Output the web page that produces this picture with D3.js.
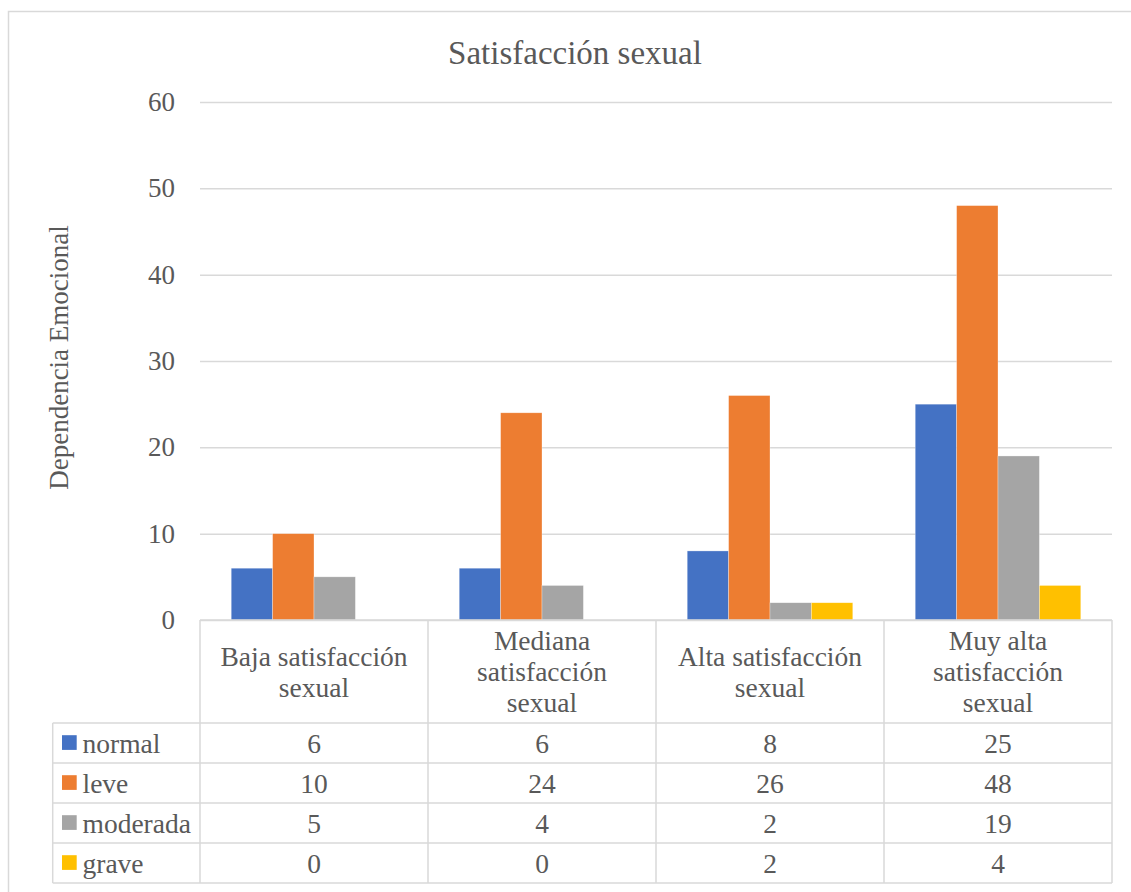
<!DOCTYPE html>
<html>
<head>
<meta charset="utf-8">
<script src="https://cdn.jsdelivr.net/npm/d3@7/dist/d3.min.js"></script>
<style>
  html, body { margin: 0; padding: 0; background: #ffffff; }
</style>
</head>
<body>
<svg id="chart" width="1131" height="892"></svg>
<script>
const title = "Satisfacción sexual";
const yTitle = "Dependencia Emocional";
const categories = ["Baja satisfacción sexual", "Mediana satisfacción sexual", "Alta satisfacción sexual", "Muy alta satisfacción sexual"];
const seriesNames = ["normal", "leve", "moderada", "grave"];
const seriesColors = ["#4472C4", "#ED7D31", "#A5A5A5", "#FFC000"];
const normal = [6, 6, 8, 25];
const leve = [10, 24, 26, 48];
const moderada = [5, 4, 2, 19];
const grave = [0, 0, 2, 4];
const yTicks = [0, 10, 20, 30, 40, 50, 60];

const seriesValues = [normal, leve, moderada, grave];
const textColor = "#595959";
const gridColor = "#d9d9d9";
const FONT = "Liberation Serif";
const FS = 27.5;

const svg = d3.select("#chart");

svg.append("rect").attr("x", 8.5).attr("y", 11.5).attr("width", 1200).attr("height", 1000)
  .attr("fill", "none").attr("stroke", gridColor).attr("stroke-width", 1.5);

const plotLeft = 200, plotRight = 1112, plotTop = 102, plotBottom = 620;
const legendLeft = 52.7;

const y = d3.scaleLinear().domain([0, 60]).range([plotBottom, plotTop]);
const x = d3.scaleBand().domain(categories).range([plotLeft, plotRight]).paddingInner(0).paddingOuter(0);
const xInner = d3.scaleBand().domain(seriesNames).range([0, x.bandwidth()]).paddingInner(0).paddingOuter(0.754);

function txt(sel) { return sel.style("font-family", FONT).attr("fill", textColor); }

// title
txt(svg.append("text")).attr("x", 575).attr("y", 64).attr("text-anchor", "middle")
  .attr("font-size", 33).text(title);

// y-axis title
txt(svg.append("text")).attr("transform", `translate(68,${357.5}) rotate(-90)`)
  .attr("text-anchor", "middle").attr("font-size", 27).text(yTitle);

// gridlines + ticks
const yAxis = d3.axisLeft(y).tickValues(yTicks).tickSize(-(plotRight - plotLeft)).tickPadding(25).tickFormat(d3.format("d"));
const gAxis = svg.append("g").attr("transform", `translate(${plotLeft},0)`).call(yAxis);
gAxis.attr("font-family", null).attr("font-size", null);
gAxis.select(".domain").remove();
gAxis.selectAll(".tick line").attr("stroke", gridColor).attr("stroke-width", 1.5);
gAxis.selectAll(".tick text").style("font-family", FONT).attr("fill", textColor).style("font-size", "27px").attr("x", -25);

// bars
const groups = svg.append("g").selectAll("g").data(categories).join("g")
  .attr("transform", d => `translate(${x(d)},0)`);
groups.selectAll("rect").data((c, ci) => seriesNames.map((s, si) => ({ s, si, v: seriesValues[si][ci] })))
  .join("rect")
  .attr("x", d => xInner(d.s))
  .attr("width", xInner.bandwidth())
  .attr("y", d => y(d.v))
  .attr("height", d => y(0) - y(d.v))
  .attr("fill", d => seriesColors[d.si])
  .attr("stroke", "#ffffff").attr("stroke-opacity", 0.5).attr("stroke-width", 0.6);

// data table
const headerBottom = 723, rowH = 40;
const tableBottom = headerBottom + rowH * seriesNames.length;
const tg = svg.append("g");
const vx = [plotLeft, ...categories.map(c => x(c) + x.bandwidth())];
vx.forEach(xx => tg.append("line").attr("x1", xx).attr("x2", xx).attr("y1", plotBottom).attr("y2", tableBottom)
  .attr("stroke", gridColor).attr("stroke-width", 1.5));
tg.append("line").attr("x1", legendLeft).attr("x2", legendLeft).attr("y1", headerBottom).attr("y2", tableBottom)
  .attr("stroke", gridColor).attr("stroke-width", 1.5);
tg.append("line").attr("x1", plotLeft).attr("x2", plotRight).attr("y1", plotBottom).attr("y2", plotBottom)
  .attr("stroke", gridColor).attr("stroke-width", 1.5);
for (let i = 0; i <= seriesNames.length; i++) {
  const yy = headerBottom + i * rowH;
  tg.append("line").attr("x1", legendLeft).attr("x2", plotRight).attr("y1", yy).attr("y2", yy)
    .attr("stroke", gridColor).attr("stroke-width", 1.5);
}

// header labels with wrapping
const lineH = 31;
categories.forEach(c => {
  const cx = x(c) + x.bandwidth() / 2;
  const words = c.split(" ");
  const t = txt(tg.append("text")).attr("font-size", FS).attr("text-anchor", "middle");
  const lines = [];
  let cur = [];
  const probe = t.append("tspan");
  words.forEach(w => {
    const test = cur.concat([w]).join(" ");
    probe.text(test);
    if (probe.node().getComputedTextLength() > 200 && cur.length) {
      lines.push(cur.join(" "));
      cur = [w];
    } else cur.push(w);
  });
  lines.push(cur.join(" "));
  probe.remove();
  const midY = (plotBottom + headerBottom) / 2;
  const firstBaseline = midY - (lines.length - 1) * lineH / 2 + 9.5;
  lines.forEach((l, i) => t.append("tspan").attr("x", cx).attr("y", firstBaseline + i * lineH).text(l));
});

// rows
seriesNames.forEach((s, si) => {
  const cy = headerBottom + si * rowH + rowH / 2;
  tg.append("rect").attr("x", 62).attr("y", cy - 7.8).attr("width", 14.7).attr("height", 14.7).attr("fill", seriesColors[si]);
  txt(tg.append("text")).attr("x", 82.5).attr("y", cy + 9.5).attr("font-size", FS).text(s);
  categories.forEach((c, ci) => {
    txt(tg.append("text")).attr("x", x(c) + x.bandwidth() / 2).attr("y", cy + 9.5).attr("text-anchor", "middle")
      .attr("font-size", FS).text(seriesValues[si][ci]);
  });
});
</script>
</body>
</html>
